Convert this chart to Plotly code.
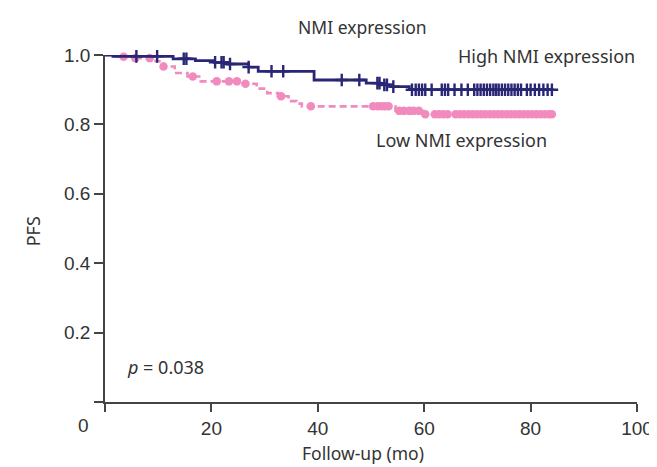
import plotly.graph_objects as go

# ---------------- data ----------------
x_ticks = [0, 20, 40, 60, 80, 100]
x_ticklabels = ["", "20", "40", "60", "80", "100"]
y_ticks = [0, 0.2, 0.4, 0.6, 0.8, 1.0]
y_ticklabels = ["", "0.2", "0.4", "0.6", "0.8", "1.0"]

# High NMI expression: Kaplan-Meier step times (months) and PFS
high_times = [0, 1.5, 12.8, 17.0, 20.5, 23.0, 27.0, 28.8, 39.3, 49.1, 51.8, 53.7, 57.2, 84.0]
high_surv = [1.000, 0.996, 0.989, 0.984, 0.979, 0.974, 0.965, 0.953, 0.928, 0.919, 0.914, 0.909, 0.900, 0.900]
high_censor = [5.9, 9.8, 14.8, 15.3, 20.7, 21.9, 22.3, 23.5, 27.0, 31.3, 33.5, 44.5, 47.8,
               51.2, 51.6, 52.5, 53.0, 54.2, 57.7, 58.4, 59.0, 59.6, 60.2, 61.4, 63.3, 63.9,
               64.5, 65.7, 67.0, 68.2, 69.4, 70.0, 70.6, 71.2, 71.8, 72.4, 73.0, 73.5, 74.0,
               74.6, 75.2, 75.8, 76.4, 77.0, 77.6, 78.2, 79.3, 80.0, 80.8, 81.6, 82.4, 83.2, 84.0]

# Low NMI expression
low_times = [0, 2.0, 5.0, 9.5, 11.0, 13.1, 15.5, 18.0, 25.5, 28.5, 30.5, 32.5, 34.5, 36.0, 37.0, 54.6, 59.8, 84.0]
low_surv = [1.000, 0.995, 0.991, 0.982, 0.967, 0.948, 0.938, 0.924, 0.917, 0.903, 0.890, 0.881,
            0.867, 0.860, 0.852, 0.839, 0.829, 0.829]
low_censor = [3.5, 5.7, 8.4, 11.0, 16.5, 21.0, 23.3, 24.8, 26.4, 33.1, 38.7, 50.4, 51.3, 52.0,
              52.6, 53.3, 55.3, 56.2, 57.2, 58.0, 59.0, 60.2, 62.0, 62.8, 63.6, 64.4, 65.9,
              66.7, 67.5, 68.3, 69.1, 69.9, 70.7, 71.5, 72.3, 73.1, 73.9, 74.7, 75.5, 76.3,
              77.1, 77.9, 78.7, 79.5, 80.3, 81.1, 81.9, 82.7, 83.5, 84.0]

NAVY = "#2a2676"
PINK = "#f28bbd"
TEXT = "#333333"


def surv_at(times, surv, t):
    val = surv[0]
    for ti, si in zip(times, surv):
        if ti <= t:
            val = si
    return val


fig = go.Figure()

# Low NMI (pink dashed, circles)
fig.add_trace(go.Scatter(x=low_times, y=low_surv, mode="lines", line_shape="hv",
                         line=dict(color=PINK, width=2.6, dash="7px,4px"),
                         cliponaxis=False, showlegend=False, hoverinfo="skip"))
fig.add_trace(go.Scatter(x=low_censor, y=[surv_at(low_times, low_surv, t) for t in low_censor],
                         mode="markers", marker=dict(symbol="circle", size=8.5, color=PINK),
                         cliponaxis=False, showlegend=False, hoverinfo="skip"))

# High NMI (navy solid, plus)
fig.add_trace(go.Scatter(x=high_times, y=high_surv, mode="lines", line_shape="hv",
                         line=dict(color=NAVY, width=2.8),
                         cliponaxis=False, showlegend=False, hoverinfo="skip"))
fig.add_trace(go.Scatter(x=high_censor, y=[surv_at(high_times, high_surv, t) for t in high_censor],
                         mode="markers",
                         marker=dict(symbol="cross-thin", size=9, line=dict(color=NAVY, width=2.4)),
                         cliponaxis=False, showlegend=False, hoverinfo="skip"))

W, H = 657, 467
L, R, T, B = 97, 18, 47, 73
PW, PH = W - L - R, H - T - B


def px(xp):
    return (xp - L) / PW


def py(yp):
    return (H - B - yp) / PH


LABEL_FONT = dict(family="Noto Sans, Open Sans, sans-serif", size=18, color=TEXT)
TITLE_FONT = dict(family="Noto Sans, Open Sans, sans-serif", size=17.5, color=TEXT)
TICK_FONT = dict(family="Liberation Sans, Arial, sans-serif", size=19, color=TEXT)

annotations = [
    dict(text="NMI expression", x=px(359), y=py(19), font=TITLE_FONT),
    dict(text="High NMI expression", x=px(639), y=py(48), xanchor="right", font=LABEL_FONT),
    dict(text="Low NMI expression", x=px(460), y=py(132), font=LABEL_FONT),
    dict(text="<i>p</i> = 0.038", x=px(117), y=py(359), xanchor="left", font=LABEL_FONT),
    dict(text="Follow-up (mo)", x=px(360), y=py(445), font=TITLE_FONT),
    dict(text="PFS", x=px(24), y=py(223), textangle=-90, font=LABEL_FONT),
    dict(text="0", x=px(75), y=py(417), font=TICK_FONT),
]
for a in annotations:
    a.update(xref="paper", yref="paper", showarrow=False)
    a.setdefault("xanchor", "center")
    a.setdefault("yanchor", "middle")

fig.update_layout(
    width=W, height=H,
    margin=dict(l=L, r=R, t=T, b=B, pad=0),
    paper_bgcolor="white", plot_bgcolor="white",
    annotations=annotations,
    xaxis=dict(range=[0, 100], tickvals=x_ticks, ticktext=x_ticklabels, ticks="outside",
               ticklen=8, tickwidth=1.5, tickcolor="#444", showline=True, linecolor="#444",
               linewidth=1.5, showgrid=False, zeroline=False, tickfont=TICK_FONT, fixedrange=True),
    yaxis=dict(range=[0, 1], tickvals=y_ticks, ticktext=y_ticklabels, ticks="outside",
               ticklen=9, tickwidth=1.5, tickcolor="#444", showline=True, linecolor="#444",
               linewidth=1.5, showgrid=False, zeroline=False, tickfont=TICK_FONT, fixedrange=True),
)

fig.write_html("out.html")
